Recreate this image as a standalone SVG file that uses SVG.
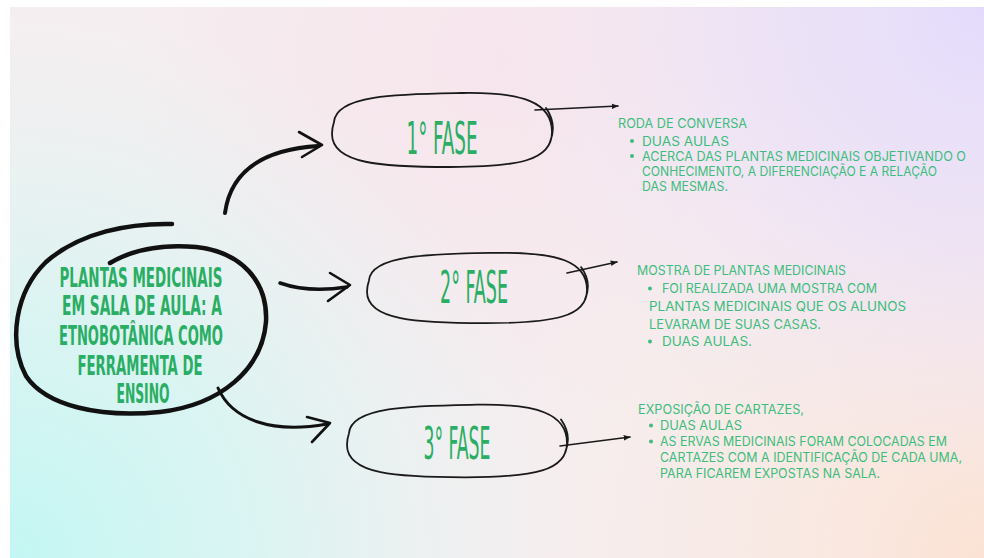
<svg xmlns="http://www.w3.org/2000/svg" xmlns:xlink="http://www.w3.org/1999/xlink" width="984" height="558" viewBox="0 0 984 558">
<style>
.title{font-family:"Liberation Sans Narrow","DejaVu Sans Condensed","Liberation Sans",sans-serif;font-weight:bold;font-size:26px;fill:#2aae64;text-anchor:middle}
.phase{font-family:"Liberation Sans Narrow","DejaVu Sans Condensed","Liberation Sans",sans-serif;font-size:44px;fill:#2aae64;text-anchor:middle}
.body{font-family:"Inter","Noto Sans","Liberation Sans",sans-serif;font-size:13px;fill:#3dbd7d}
.blob{fill:none;stroke:#1a1a1a;stroke-width:1.8;stroke-linecap:round;stroke-linejoin:round}
.thick{fill:none;stroke:#111;stroke-linecap:round;stroke-linejoin:round}
.thin{fill:none;stroke:#1a1a1a;stroke-width:1.6;stroke-linecap:round}
.bullet{fill:#3dbd7d}
</style>
<defs>
<radialGradient id="gCyan" cx="10" cy="558" r="560" gradientUnits="userSpaceOnUse">
<stop offset="0" stop-color="#c3f7f3" stop-opacity="1"/>
<stop offset="0.45" stop-color="#d2f6f3" stop-opacity="0.75"/>
<stop offset="1" stop-color="#e6f5f3" stop-opacity="0"/>
</radialGradient>
<radialGradient id="gLav" cx="984" cy="7" r="480" gradientUnits="userSpaceOnUse">
<stop offset="0" stop-color="#e4dbfc" stop-opacity="1"/>
<stop offset="0.5" stop-color="#e9defa" stop-opacity="0.6"/>
<stop offset="1" stop-color="#eee3f6" stop-opacity="0"/>
</radialGradient>
<radialGradient id="gPeach" cx="984" cy="558" r="520" gradientUnits="userSpaceOnUse">
<stop offset="0" stop-color="#fbe2d4" stop-opacity="1"/>
<stop offset="0.5" stop-color="#fae8e0" stop-opacity="0.6"/>
<stop offset="1" stop-color="#f8ece9" stop-opacity="0"/>
</radialGradient>
<radialGradient id="gPink" cx="500" cy="60" r="380" gradientUnits="userSpaceOnUse">
<stop offset="0" stop-color="#f7e4ec" stop-opacity="0.9"/>
<stop offset="1" stop-color="#f7e4ec" stop-opacity="0"/>
</radialGradient>
<path id="blobShape" d="M-108,-8 C-106,-36 -40,-36 20,-37 C80,-38 110,-28 110,2 C110,30 78,37 8,37 C-60,37 -110,34 -110,4 C-110,-1 -109,-5 -108,-8 Z M104,-22 C111,-12 113,0 108,12"/>
<marker id="ah" viewBox="0 0 10 10" refX="9" refY="5" markerWidth="7" markerHeight="7" orient="auto" markerUnits="userSpaceOnUse">
<path d="M0,1 L10,5 L0,9 Z" fill="#1a1a1a"/>
</marker>
</defs>

<rect x="0" y="0" width="984" height="558" fill="#ffffff"/>
<rect x="10" y="7" width="974" height="551" fill="#f5eef0"/>
<rect x="10" y="7" width="974" height="551" fill="url(#gPink)"/>
<rect x="10" y="7" width="974" height="551" fill="url(#gPeach)"/>
<rect x="10" y="7" width="974" height="551" fill="url(#gLav)"/>
<rect x="10" y="7" width="974" height="551" fill="url(#gCyan)"/>

<g id="connectors">
<path class="thick" stroke-width="4" d="M225,213 C230,176 256,150 318,146"/>
<path class="thick" stroke-width="2.6" d="M299,132 L322,145 L302,157"/>
<path class="thick" stroke-width="3.5" d="M280,283 C300,290 322,291 347,287"/>
<path class="thick" stroke-width="2.6" d="M330,273 L350,285 L328,301"/>
<path class="thick" stroke-width="3" d="M218,388 C232,420 272,434 327,424"/>
<path class="thick" stroke-width="2.6" d="M307,417 L330,423 L312,442"/>
<path class="thin" marker-end="url(#ah)" d="M535,110 L618,106"/>
<path class="thin" marker-end="url(#ah)" d="M567,273 L617,262"/>
<path class="thin" marker-end="url(#ah)" d="M560,446 L630,437"/>
</g>

<g id="node-center">
<path class="thick" stroke-width="4.5" d="M172,224 C130,223 80,232 46,262 C15,292 8,342 26,376 C46,406 100,418 160,412 C220,405 262,370 266,322 C268,282 242,252 196,247 C160,244 132,250 110,263"/>
<text class="title" x="141" y="287" textLength="163" lengthAdjust="spacingAndGlyphs">PLANTAS MEDICINAIS</text>
<text class="title" x="142" y="315" textLength="160" lengthAdjust="spacingAndGlyphs">EM SALA DE AULA: A</text>
<text class="title" x="141" y="345" textLength="164" lengthAdjust="spacingAndGlyphs">ETNOBOTÂNICA COMO</text>
<text class="title" x="140" y="375" textLength="125" lengthAdjust="spacingAndGlyphs">FERRAMENTA DE</text>
<text class="title" x="143" y="403" textLength="53" lengthAdjust="spacingAndGlyphs">ENSINO</text>
</g>

<g id="node-fase1">
<use xlink:href="#blobShape" href="#blobShape" class="blob" transform="translate(442,130)"/>
<text class="phase" x="442" y="154" textLength="71" lengthAdjust="spacingAndGlyphs">1° FASE</text>
</g>

<g id="node-fase2">
<use xlink:href="#blobShape" href="#blobShape" class="blob" transform="translate(477,288) scale(1,0.95)"/>
<text class="phase" x="474" y="303" textLength="68" lengthAdjust="spacingAndGlyphs">2° FASE</text>
</g>

<g id="node-fase3">
<use xlink:href="#blobShape" href="#blobShape" class="blob" transform="translate(457,441) scale(1,0.98)"/>
<text class="phase" x="457" y="459" textLength="67" lengthAdjust="spacingAndGlyphs">3° FASE</text>
</g>

<g id="node-desc1">
<text class="body" x="618" y="128" textLength="129" lengthAdjust="spacingAndGlyphs">RODA DE CONVERSA</text>
<circle class="bullet" cx="632" cy="141" r="2"/>
<text class="body" x="642" y="145.5" textLength="87" lengthAdjust="spacingAndGlyphs">DUAS AULAS</text>
<circle class="bullet" cx="632" cy="156" r="2"/>
<text class="body" x="642" y="160.5" textLength="324" lengthAdjust="spacingAndGlyphs">ACERCA DAS PLANTAS MEDICINAIS OBJETIVANDO O</text>
<text class="body" x="642" y="176" textLength="295" lengthAdjust="spacingAndGlyphs">CONHECIMENTO, A DIFERENCIAÇÃO E A RELAÇÃO</text>
<text class="body" x="642" y="191" textLength="86" lengthAdjust="spacingAndGlyphs">DAS MESMAS.</text>
</g>

<g id="node-desc2">
<text class="body" x="637" y="275" textLength="209" lengthAdjust="spacingAndGlyphs">MOSTRA DE PLANTAS MEDICINAIS</text>
<circle class="bullet" cx="650" cy="288.5" r="2"/>
<text class="body" x="662" y="293" textLength="215" lengthAdjust="spacingAndGlyphs">FOI REALIZADA UMA MOSTRA COM</text>
<text class="body" x="649" y="311" textLength="257" lengthAdjust="spacingAndGlyphs">PLANTAS MEDICINAIS QUE OS ALUNOS</text>
<text class="body" x="649" y="328.5" textLength="172" lengthAdjust="spacingAndGlyphs">LEVARAM DE SUAS CASAS.</text>
<circle class="bullet" cx="650" cy="341.5" r="2"/>
<text class="body" x="662" y="346" textLength="90" lengthAdjust="spacingAndGlyphs">DUAS AULAS.</text>
</g>

<g id="node-desc3">
<text class="body" x="638" y="414" textLength="166" lengthAdjust="spacingAndGlyphs">EXPOSIÇÃO DE CARTAZES,</text>
<circle class="bullet" cx="651" cy="425.5" r="2"/>
<text class="body" x="660" y="430" textLength="82" lengthAdjust="spacingAndGlyphs">DUAS AULAS</text>
<circle class="bullet" cx="651" cy="441.5" r="2"/>
<text class="body" x="660" y="446" textLength="287" lengthAdjust="spacingAndGlyphs">AS ERVAS MEDICINAIS FORAM COLOCADAS EM</text>
<text class="body" x="660" y="462" textLength="302" lengthAdjust="spacingAndGlyphs">CARTAZES COM A IDENTIFICAÇÃO DE CADA UMA,</text>
<text class="body" x="660" y="478" textLength="220" lengthAdjust="spacingAndGlyphs">PARA FICAREM EXPOSTAS NA SALA.</text>
</g>
</svg>
